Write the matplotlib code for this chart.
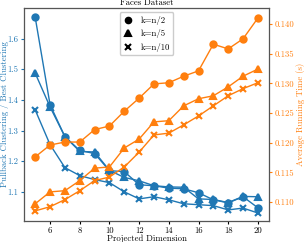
import matplotlib
matplotlib.use('Agg')
import matplotlib.pyplot as plt
from matplotlib.lines import Line2D

plt.rcParams['font.family'] = 'serif'
plt.rcParams['font.serif'] = ['cmr10', 'DejaVu Serif']
plt.rcParams['axes.formatter.use_mathtext'] = False

dims = [5, 6, 7, 8, 9, 10, 11, 12, 13, 14, 15, 16, 17, 18, 19, 20]

# pullback clustering / best clustering (left axis)
ratio_n2 = [1.669, 1.384, 1.280, 1.235, 1.225, 1.169, 1.166, 1.123, 1.120, 1.112,
            1.110, 1.097, 1.074, 1.064, 1.084, 1.048]
ratio_n5 = [1.487, 1.377, 1.280, 1.232, 1.230, 1.170, 1.147, 1.136, 1.120, 1.116,
            1.115, 1.077, 1.075, 1.065, 1.085, 1.084]
ratio_n10 = [1.367, 1.254, 1.179, 1.153, 1.140, 1.130, 1.100, 1.077, 1.084, 1.074,
             1.061, 1.058, 1.055, 1.041, 1.047, 1.031]

# average running time in seconds (right axis)
time_n2 = [0.1176, 0.1196, 0.1201, 0.1201, 0.1222, 0.1228, 0.1253, 0.1275, 0.1299, 0.1301,
           0.1312, 0.1321, 0.1366, 0.1358, 0.1375, 0.1410]
time_n5 = [0.1097, 0.1117, 0.1119, 0.1136, 0.1157, 0.1159, 0.1191, 0.1206, 0.1235, 0.1237,
           0.1262, 0.1274, 0.1279, 0.1294, 0.1312, 0.1324]
time_n10 = [0.1085, 0.1092, 0.1104, 0.1119, 0.1136, 0.1142, 0.1159, 0.1184, 0.1213, 0.1216,
            0.1230, 0.1245, 0.1262, 0.1279, 0.1291, 0.1301]

labels = ['k=n/2', 'k=n/5', 'k=n/10']
markers = ['o', '^', 'x']

blue = '#1f77b4'
orange = '#ff7f0e'
fs = 6.3

fig = plt.figure(figsize=(3.05, 2.42), dpi=100)
ax = fig.add_axes([0.079, 0.087, 0.803, 0.88])
ax2 = ax.twinx()

for vals, m in zip([ratio_n2, ratio_n5, ratio_n10], markers):
    ax.plot(dims, vals, marker=m, color=blue, lw=1, ms=4.5, mew=1.5)
for vals, m in zip([time_n2, time_n5, time_n10], markers):
    ax2.plot(dims, vals, marker=m, color=orange, lw=1, ms=4.5, mew=1.5)

ax.set_xticks([6, 8, 10, 12, 14, 16, 18, 20])
ax.set_xticklabels(['6', '8', '10', '12', '14', '16', '18', '20'])
ax.set_yticks([1.1, 1.2, 1.3, 1.4, 1.5, 1.6])
ax.set_yticklabels(['1.1', '1.2', '1.3', '1.4', '1.5', '1.6'])
ax2.set_yticks([0.110, 0.115, 0.120, 0.125, 0.130, 0.135, 0.140])
ax2.set_yticklabels(['0.110', '0.115', '0.120', '0.125', '0.130', '0.135', '0.140'])
ax.set_ylim(1.005, 1.70)
ax2.set_ylim(0.1068, 0.1427)

ax.tick_params(labelsize=fs, length=2.5, pad=1.5)
ax.tick_params(axis='y', colors=blue)
ax.tick_params(axis='x', colors='black')
ax2.tick_params(axis='y', labelsize=fs, length=2.5, pad=1.5, colors=orange)

ax.set_xlabel('Projected Dimension', fontsize=fs, labelpad=0)
ax.set_ylabel('Pullback Clustering / Best Clustering', fontsize=fs, color=blue)
ax.yaxis.set_label_coords(-0.062, 0.5)
ax2.set_ylabel('Average Running Time (s)', fontsize=fs, color=orange, labelpad=1)
ax.set_title('Faces Dataset', fontsize=fs, pad=2)

for sp in ['left', 'right', 'top', 'bottom']:
    ax2.spines[sp].set_color('#555555')

handles = [Line2D([], [], ls='none', marker=m, color='black', ms=4, mew=1.5) for m in markers]
ax2.legend(handles, labels, loc='upper center', fontsize=fs, framealpha=1,
           handlelength=1.2, borderpad=0.4, labelspacing=0.5)

fig.savefig('out.png', dpi=100)
